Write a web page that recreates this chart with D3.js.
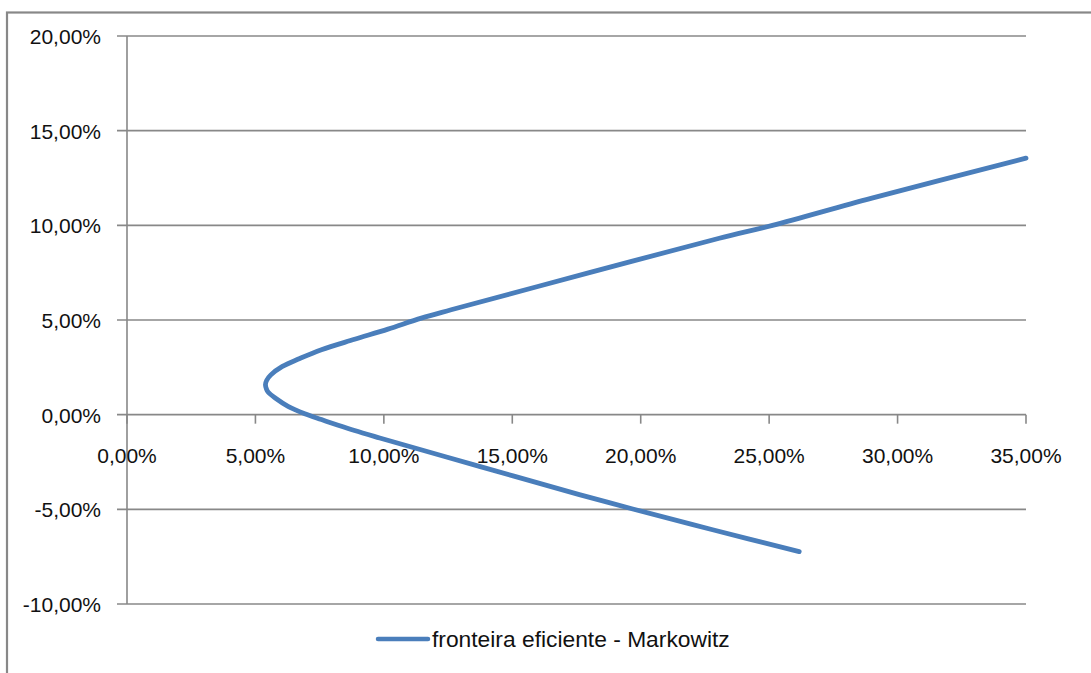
<!DOCTYPE html>
<html>
<head>
<meta charset="utf-8">
<script src="https://cdn.jsdelivr.net/npm/d3@7"></script>
<style>
  html, body { margin: 0; padding: 0; background: #fff; }
  svg { display: block; }
  text { font-family: "Liberation Sans", Arial, sans-serif; fill: #111; }
</style>
</head>
<body>
<svg id="chart" width="1091" height="673"></svg>
<script>
// Efficient frontier (Markowitz): portfolio risk (std. dev.) vs expected return
const risk   = [0.2617, 0.2280, 0.1969, 0.1761, 0.1372, 0.0984, 0.0886, 0.0822, 0.0757, 0.0692, 0.0627, 0.0577, 0.0550, 0.0543, 0.0539, 0.0544, 0.0560, 0.0605, 0.0670, 0.0757, 0.0886, 0.1016, 0.1146, 0.1262, 0.1800, 0.2306, 0.2513, 0.2900, 0.3500];
const retrn  = [-0.0723, -0.0608, -0.0498, -0.0422, -0.0273, -0.0123, -0.0084, -0.0056, -0.0026, 0.0005, 0.0044, 0.0088, 0.0118, 0.0135, 0.0158, 0.0182, 0.0210, 0.0255, 0.0295, 0.0343, 0.0398, 0.0452, 0.0510, 0.0554, 0.0750, 0.0932, 0.1000, 0.1144, 0.1355];
const xTicks = [0, 0.05, 0.10, 0.15, 0.20, 0.25, 0.30, 0.35];
const yTicks = [-0.10, -0.05, 0, 0.05, 0.10, 0.15, 0.20];
const seriesName = "fronteira eficiente - Markowitz";

const svg = d3.select("#chart");
const locale = d3.formatLocale({ decimal: ",", thousands: ".", grouping: [3], currency: ["R$", ""], minus: "-" });
const pct = locale.format(".2%");

const x = d3.scaleLinear().domain([0, 0.35]).range([127, 1026]);
const y = d3.scaleLinear().domain([-0.10, 0.20]).range([604, 36]);

// chart frame
svg.append("rect")
  .attr("x", 7).attr("y", 12.5)
  .attr("width", 1200).attr("height", 800)
  .attr("fill", "none").attr("stroke", "#888").attr("stroke-width", 2.2);

// horizontal gridlines with left tick marks
svg.append("g").selectAll("line").data(yTicks).join("line")
  .attr("x1", x(0) - 10).attr("x2", x(0.35))
  .attr("y1", d => y(d)).attr("y2", d => y(d))
  .attr("stroke", "#888").attr("stroke-width", 1.6);

// vertical axis line
svg.append("line")
  .attr("x1", x(0)).attr("x2", x(0))
  .attr("y1", y(0.20)).attr("y2", y(-0.10))
  .attr("stroke", "#888").attr("stroke-width", 1.6);

// x tick marks hanging below the zero line
svg.append("g").selectAll("line").data(xTicks).join("line")
  .attr("x1", d => x(d)).attr("x2", d => x(d))
  .attr("y1", y(0)).attr("y2", y(0) + 9)
  .attr("stroke", "#888").attr("stroke-width", 1.6);

// y tick labels
svg.append("g").selectAll("text").data(yTicks).join("text")
  .attr("x", 101).attr("y", d => y(d) + 8)
  .attr("text-anchor", "end")
  .attr("font-size", 21)
  .text(d => pct(d));

// x tick labels
svg.append("g").selectAll("text").data(xTicks).join("text")
  .attr("x", d => x(d)).attr("y", 463)
  .attr("text-anchor", "middle")
  .attr("font-size", 21)
  .text(d => pct(d));

// frontier curve
const pts = risk.map((r, i) => [r, retrn[i]]);
const line = d3.line()
  .x(d => x(d[0]))
  .y(d => y(d[1]))
  .curve(d3.curveCatmullRom.alpha(0.5));

svg.append("path")
  .datum(pts)
  .attr("d", line)
  .attr("fill", "none")
  .attr("stroke", "#4a7ebb")
  .attr("stroke-width", 4.8)
  .attr("stroke-linejoin", "round")
  .attr("stroke-linecap", "round");

// legend
const lg = svg.append("g");
lg.append("line")
  .attr("x1", 378).attr("x2", 428)
  .attr("y1", 639).attr("y2", 639)
  .attr("stroke", "#4a7ebb").attr("stroke-width", 4.5)
  .attr("stroke-linecap", "round");
lg.append("text")
  .attr("x", 432).attr("y", 647)
  .attr("font-size", 22.8)
  .text(seriesName);
</script>
</body>
</html>
